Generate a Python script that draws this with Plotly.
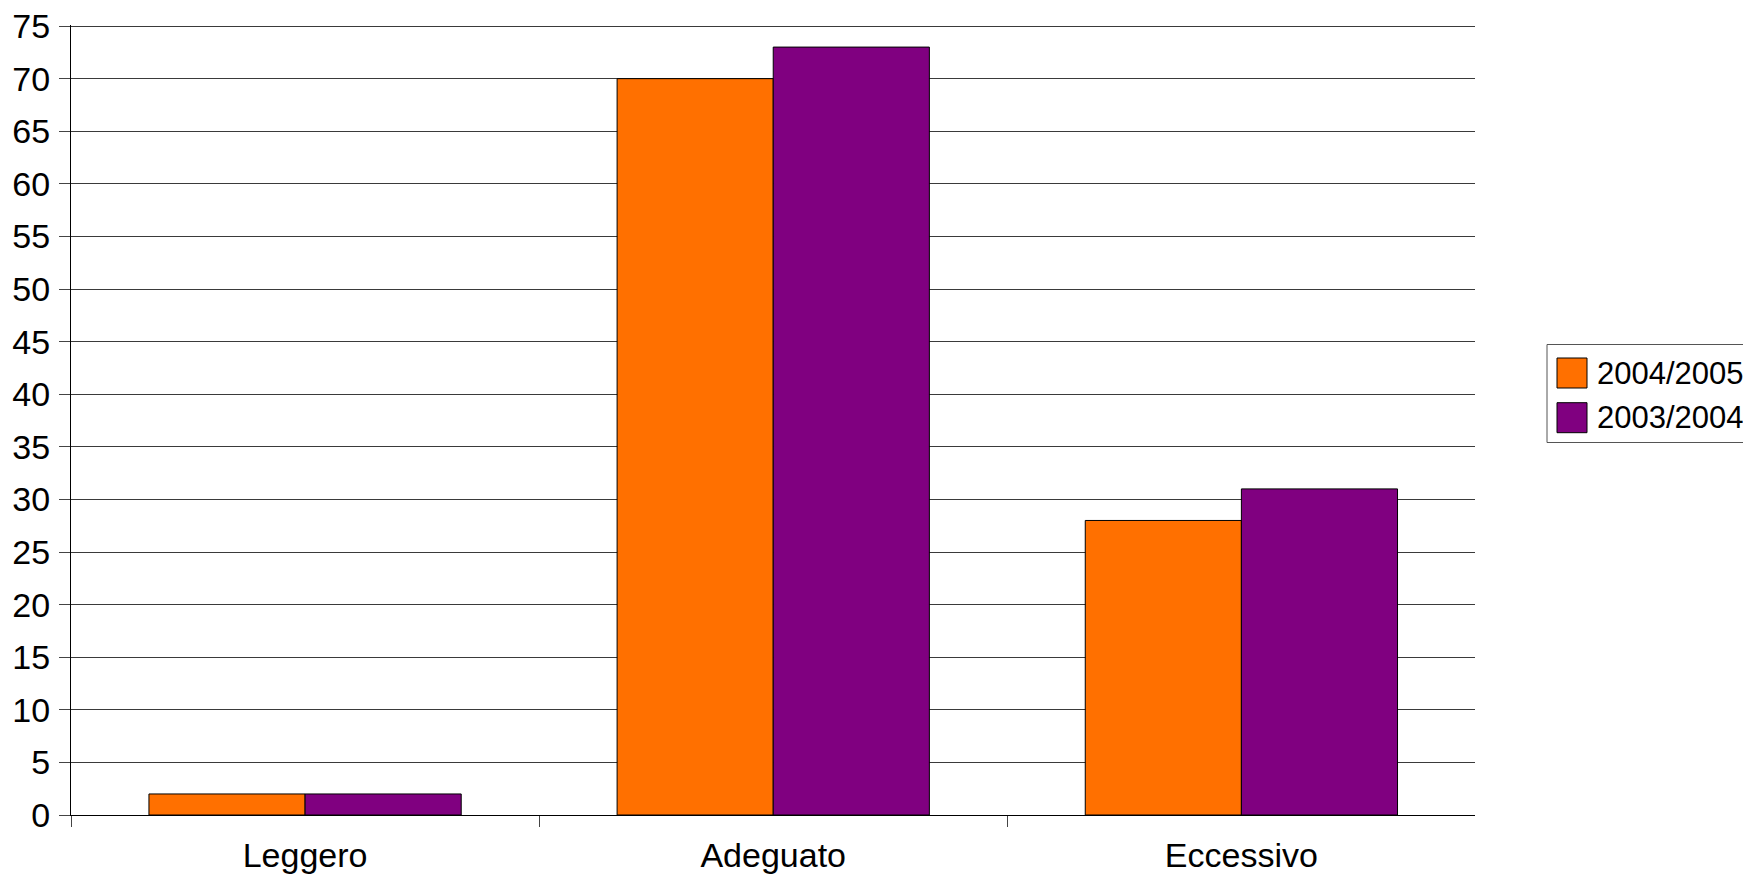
import plotly.graph_objects as go

categories = ["Leggero", "Adeguato", "Eccessivo"]
series_names = ["2004/2005", "2003/2004"]
values_2004_2005 = [2, 70, 28]
values_2003_2004 = [2, 73, 31]
series_colors = ["#FF7000", "#800080"]

W, H = 1743, 874
ML, MT = 71, 25
PW, PH = 1404, 790
MR = W - ML - PW
MB = H - MT - PH
YMAX = 75.1


def px_x(X):
    return (X - ML) / PW


def px_y(Y):
    return (MT + PH - Y) / PH


fig = go.Figure()
for name, vals, col in zip(series_names, [values_2004_2005, values_2003_2004], series_colors):
    fig.add_trace(go.Bar(
        x=categories, y=vals, name=name,
        marker=dict(color=col, line=dict(color="#000000", width=1)),
        showlegend=False,
    ))

FONT = "Liberation Sans, Arial, sans-serif"

shapes = [
    dict(type="rect", xref="paper", yref="paper",
         x0=px_x(1547), x1=px_x(1800), y0=px_y(442.5), y1=px_y(344.5),
         line=dict(color="#555555", width=1), fillcolor="white", layer="above"),
]
annotations = []
row_tops = [358, 402.7]
for i, (name, col) in enumerate(zip(series_names, series_colors)):
    t = row_tops[i]
    shapes.append(dict(type="rect", xref="paper", yref="paper",
                       x0=px_x(1557), x1=px_x(1587), y0=px_y(t + 30), y1=px_y(t),
                       line=dict(color="#000000", width=1), fillcolor=col, layer="above"))
    annotations.append(dict(xref="paper", yref="paper", x=px_x(1595), y=px_y(t + 15),
                            text=name, showarrow=False, xanchor="left", yanchor="middle",
                            font=dict(family=FONT, size=31, color="#000000")))

fig.update_layout(
    width=W, height=H,
    margin=dict(l=ML, r=MR, t=MT, b=MB, pad=0, autoexpand=False),
    paper_bgcolor="white", plot_bgcolor="white",
    barmode="group", bargap=0.333, bargroupgap=0,
    font=dict(family=FONT, size=33, color="#000000"),
    shapes=shapes, annotations=annotations,
    showlegend=False,
)
fig.update_xaxes(
    type="category", range=[-0.5, 2.499], automargin=False,
    tickson="boundaries", ticks="outside", ticklen=11, tickwidth=1, tickcolor="#444444",
    showline=True, linecolor="#000000", linewidth=1,
    showgrid=False, tickfont=dict(size=34), ticklabelstandoff=10,
)
fig.update_yaxes(
    range=[0, YMAX], dtick=5, tick0=0, automargin=False,
    ticks="outside", ticklen=11, tickwidth=1, tickcolor="#444444",
    showline=True, linecolor="#000000", linewidth=1,
    showgrid=True, gridcolor="#3a3a3a", gridwidth=1,
    zeroline=False, tickfont=dict(size=34), ticklabelstandoff=2,
    ticklabeloverflow="allow",
)

fig.write_html(
    "out.html",
    config={"displayModeBar": False},
    post_script="document.body.style.margin='0px';document.body.style.overflow='hidden';",
)
